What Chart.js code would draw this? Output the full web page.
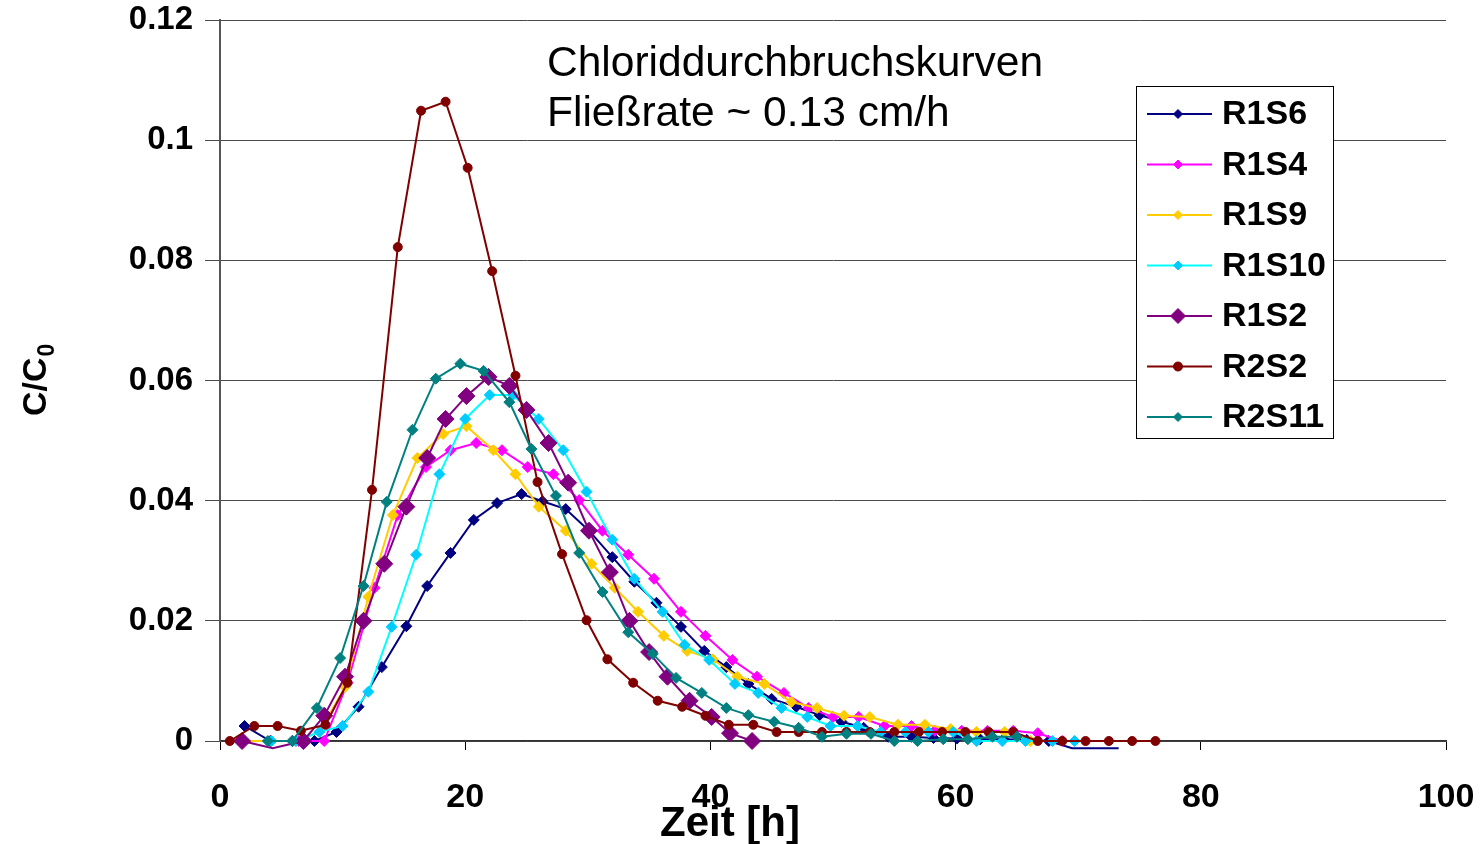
<!DOCTYPE html>
<html>
<head>
<meta charset="utf-8">
<title>Chloriddurchbruchskurven</title>
<script src="https://cdn.jsdelivr.net/npm/chart.js@4.4.0/dist/chart.umd.min.js"></script>
<style>
  body { margin: 0; background: #fff; }
  #wrap { width: 1484px; height: 844px; }
</style>
</head>
<body>
<div id="wrap"><canvas id="myChart"></canvas></div>
<script>
'use strict';

// data (Zeit in h, C/C0)

let seriesNames = ['R1S6', 'R1S4', 'R1S9', 'R1S10', 'R1S2', 'R2S2', 'R2S11'];

let timeR1S6 = [2.0, 4.1, 5.9, 7.7, 9.5, 11.3, 13.2, 15.2, 16.9, 18.8, 20.7, 22.6, 24.6, 26.3, 28.2, 30.1, 32.0, 33.8, 35.6, 37.6, 39.5, 41.3, 43.1, 45.0, 47.0, 48.9, 50.7, 52.5, 54.5, 56.4, 58.2, 60.1, 62.0, 63.9, 65.8, 67.6, 69.5, 71.4, 73.3];
let valR1S6 = [0.0025, 0, 0, 0, 0.0015, 0.0057, 0.0123, 0.0191, 0.0258, 0.0313, 0.0368, 0.0396, 0.0411, 0.0399, 0.0386, 0.035, 0.0306, 0.0265, 0.023, 0.019, 0.015, 0.0123, 0.0095, 0.007, 0.0057, 0.0043, 0.0032, 0.0022, 0.0007, 0.0007, 0.0005, 0.0004, 0.0003, 0.0003, 0.0002, 0, -0.0012, -0.0012, -0.0012];

let timeR1S4 = [6.4, 8.5, 10.4, 12.6, 14.5, 16.8, 18.8, 20.9, 23.0, 25.1, 27.2, 29.3, 31.2, 33.3, 35.4, 37.6, 39.6, 41.8, 43.8, 46.0, 48.0, 50.0, 52.1, 54.2, 56.4, 58.3, 60.5, 62.6, 64.7, 66.7, 68.7];
let valR1S4 = [0, 0, 0.0097, 0.0255, 0.0376, 0.0456, 0.0484, 0.0496, 0.0484, 0.0456, 0.0444, 0.0401, 0.035, 0.031, 0.027, 0.0215, 0.0175, 0.0135, 0.0107, 0.008, 0.0055, 0.004, 0.004, 0.0025, 0.0025, 0.0017, 0.0017, 0.0017, 0.0017, 0.0013, 0];

let timeR1S9 = [1.9, 4.2, 6.2, 8.1, 10.2, 12.1, 14.1, 16.1, 18.2, 20.1, 22.3, 24.1, 26.0, 28.2, 30.3, 32.2, 34.1, 36.2, 38.1, 40.2, 42.2, 44.4, 46.6, 48.7, 50.9, 53.0, 55.3, 57.5, 59.6, 61.7, 64.0, 66.1];
let valR1S9 = [0, 0, 0, 0.0015, 0.009, 0.024, 0.0376, 0.0471, 0.0511, 0.0524, 0.0484, 0.0444, 0.039, 0.035, 0.0295, 0.0255, 0.0215, 0.0175, 0.015, 0.0136, 0.0107, 0.0095, 0.0065, 0.0055, 0.0042, 0.004, 0.0027, 0.0027, 0.002, 0.0015, 0.0015, 0];

let timeR1S10 = [4.2, 6.2, 8.1, 10.0, 12.1, 14.0, 16.0, 17.9, 20.0, 22.0, 23.9, 26.0, 28.0, 29.9, 32.0, 33.8, 36.1, 37.9, 39.9, 42.0, 43.9, 45.8, 47.9, 49.8, 52.0, 53.9, 55.9, 57.8, 59.8, 61.7, 63.8, 65.7, 67.9, 69.7];
let valR1S10 = [0, 0, 0.0015, 0.0025, 0.0082, 0.019, 0.031, 0.0444, 0.0536, 0.0576, 0.0576, 0.0536, 0.0484, 0.0415, 0.0335, 0.027, 0.0215, 0.016, 0.0135, 0.0095, 0.008, 0.0055, 0.004, 0.0025, 0.0025, 0.0015, 0.0015, 0.0015, 0.0015, 0, 0, 0, 0, 0];

let timeR1S2 = [1.8, 4.3, 6.8, 8.5, 10.2, 11.7, 13.4, 15.2, 16.9, 18.4, 20.1, 21.9, 23.6, 25.0, 26.8, 28.4, 30.1, 31.8, 33.4, 35.0, 36.5, 38.3, 40.1, 41.6, 43.4];
let valR1S2 = [0, -0.0012, 0, 0.0042, 0.0107, 0.02, 0.0295, 0.039, 0.0471, 0.0536, 0.0574, 0.0606, 0.0591, 0.0551, 0.0496, 0.043, 0.035, 0.0281, 0.02, 0.0148, 0.0107, 0.0067, 0.004, 0.0013, 0];

let timeR2S2 = [0.8, 2.8, 4.7, 6.6, 8.6, 10.4, 12.4, 14.5, 16.4, 18.4, 20.2, 22.2, 24.1, 25.9, 27.9, 29.9, 31.6, 33.7, 35.7, 37.7, 39.6, 41.5, 43.5, 45.4, 47.2, 49.1, 51.1, 53.0, 55.0, 57.0, 58.9, 60.8, 62.7, 64.7, 66.7, 68.7, 70.6, 72.5, 74.4, 76.3];
let valR2S2 = [0, 0.0025, 0.0025, 0.0017, 0.0027, 0.0097, 0.0418, 0.0822, 0.1049, 0.1064, 0.0954, 0.0782, 0.0608, 0.0431, 0.0311, 0.0201, 0.0136, 0.0097, 0.0067, 0.0057, 0.0042, 0.0027, 0.0027, 0.0015, 0.0015, 0.0015, 0.0015, 0.0015, 0.0015, 0.0015, 0.0015, 0.0015, 0.0015, 0.0015, 0, 0, 0, 0, 0, 0];

let timeR2S11 = [3.9, 5.9, 7.9, 9.8, 11.7, 13.6, 15.7, 17.6, 19.6, 21.5, 23.6, 25.4, 27.4, 29.3, 31.2, 33.3, 35.3, 37.2, 39.3, 41.3, 43.1, 45.2, 47.2, 49.1, 51.1, 53.1, 55.0, 56.9, 59.0, 61.0, 63.0, 65.0];
let valR2S11 = [0, 0, 0.0055, 0.0138, 0.0258, 0.0398, 0.0518, 0.0603, 0.0628, 0.0616, 0.0564, 0.0486, 0.0408, 0.0313, 0.0248, 0.0181, 0.0145, 0.0105, 0.008, 0.0055, 0.0043, 0.0032, 0.0022, 0.0007, 0.0012, 0.0012, 0, 0, 0.0003, 0.0003, 0.0007, 0.0007];

let xTickLabels = ['0', '20', '40', '60', '80', '100'];
let yTickLabels = ['0', '0.02', '0.04', '0.06', '0.08', '0.1', '0.12'];
let titleLines = ['Chloriddurchbruchskurven', 'Flie\u00dfrate ~ 0.13 cm/h'];

// styles

let fontFamily = '"Liberation Sans", Arial, Helvetica, sans-serif';
let lineColors = ['#000080', '#ff00ff', '#ffcc00', '#00ffff', '#800080', '#800000', '#008080'];
let markerColors = ['#000080', '#ff00ff', '#ffcc00', '#00ccff', '#800080', '#800000', '#008080'];
let markerStyles = ['rectRot', 'rectRot', 'rectRot', 'rectRot', 'rectRot', 'circle', 'rectRot'];
let markerSizes = [5.5, 5.5, 5.5, 5.5, 8.5, 4.5, 5.5];

let allTimes = [timeR1S6, timeR1S4, timeR1S9, timeR1S10, timeR1S2, timeR2S2, timeR2S11];
let allValues = [valR1S6, valR1S4, valR1S9, valR1S10, valR1S2, valR2S2, valR2S11];

function makePoints(times, values) {
  let points = [];
  for (let i = 0; i < times.length; i++) {
    points.push({ x: times[i], y: values[i] });
  }
  return points;
}

let datasets = seriesNames.map(function (name, i) {
  return {
    label: name,
    data: makePoints(allTimes[i], allValues[i]),
    borderColor: lineColors[i],
    borderWidth: 2,
    backgroundColor: markerColors[i],
    pointBackgroundColor: markerColors[i],
    pointBorderColor: markerColors[i],
    pointBorderWidth: 1,
    pointStyle: markerStyles[i],
    // values below zero are drawn as line only, like the original
    pointRadius: function (c) { return c.raw && c.raw.y < 0 ? 0 : markerSizes[i]; },
    pointHoverRadius: markerSizes[i],
    tension: 0,
    clip: false,
    order: seriesNames.length - i // later series on top
  };
});

// titles and legend drawn inside the plot
let overlayPlugin = {
  id: 'overlay',
  afterDraw: function (chart) {
    let ctx = chart.ctx;
    let area = chart.chartArea;
    ctx.save();
    ctx.fillStyle = '#000';

    ctx.font = '42.5px ' + fontFamily;
    ctx.textAlign = 'left';
    ctx.textBaseline = 'alphabetic';
    ctx.fillText(titleLines[0], area.left + 327, area.top + 56);
    ctx.fillText(titleLines[1], area.left + 327, area.top + 106);

    // x title, sits over the "40" label as in the original
    ctx.font = 'bold 42px ' + fontFamily;
    ctx.textAlign = 'center';
    ctx.fillText('Zeit [h]', 730, 836);

    // y title C/C0 with subscript
    ctx.translate(46, 416);
    ctx.rotate(-Math.PI / 2);
    ctx.textAlign = 'left';
    ctx.font = 'bold 34px ' + fontFamily;
    ctx.fillText('C/C', 0, 0);
    let w = ctx.measureText('C/C').width;
    ctx.font = 'bold 23px ' + fontFamily;
    ctx.fillText('0', w + 1, 8);
    ctx.setTransform(1, 0, 0, 1, 0, 0);

    // legend box
    let boxLeft = area.right - 310;
    let boxTop = area.top + 66;
    ctx.fillStyle = '#fff';
    ctx.fillRect(boxLeft, boxTop, 197, 352);
    ctx.strokeStyle = '#000';
    ctx.lineWidth = 1;
    ctx.strokeRect(boxLeft + 0.5, boxTop + 0.5, 197, 352);

    for (let i = 0; i < seriesNames.length; i++) {
      let y = boxTop + 28 + i * 50.5;
      ctx.strokeStyle = lineColors[i];
      ctx.lineWidth = 2;
      ctx.beginPath();
      ctx.moveTo(boxLeft + 11, y);
      ctx.lineTo(boxLeft + 76, y);
      ctx.stroke();
      ctx.fillStyle = markerColors[i];
      ctx.strokeStyle = markerColors[i];
      ctx.lineWidth = 1;
      Chart.helpers.drawPoint(ctx, {
        pointStyle: markerStyles[i],
        radius: i === 4 ? 7.5 : 4.5,
        rotation: 0,
        borderWidth: 1
      }, boxLeft + 42, y);
      ctx.fillStyle = '#000';
      ctx.font = 'bold 34px ' + fontFamily;
      ctx.textAlign = 'left';
      ctx.textBaseline = 'middle';
      ctx.fillText(seriesNames[i], boxLeft + 86, y + 1);
    }
    ctx.restore();
  }
};

let ctx = document.getElementById('myChart').getContext('2d');

let myChart = new Chart(ctx, {
  type: 'line',
  data: { datasets: datasets },
  options: {
    responsive: true,
    maintainAspectRatio: false,
    animation: false,
    layout: { padding: { left: 0, right: 38, top: 20, bottom: 0 } },
    plugins: {
      legend: { display: false },
      tooltip: { enabled: false }
    },
    scales: {
      x: {
        type: 'linear',
        min: 0,
        max: 100,
        ticks: {
          stepSize: 20,
          color: '#000',
          font: { family: fontFamily, size: 34, weight: 'bold' },
          padding: 27,
          maxRotation: 0,
          callback: function (v) { return xTickLabels[Math.round(v / 20)]; }
        },
        grid: { drawOnChartArea: false, drawTicks: true, tickLength: 9, tickColor: '#000' },
        border: { color: '#333', width: 1.5 },
        afterFit: function (scale) {
          scale.height = 103;
          scale.paddingLeft = 0;
          scale.paddingRight = 0;
        }
      },
      y: {
        min: 0,
        max: 0.12,
        ticks: {
          stepSize: 0.02,
          color: '#000',
          font: { family: fontFamily, size: 33, weight: 'bold' },
          padding: 12,
          callback: function (v) { return yTickLabels[Math.round(v / 0.02)]; }
        },
        grid: { color: '#4a4a4a', lineWidth: 1, tickLength: 15, tickColor: '#4a4a4a' },
        border: { color: '#555', width: 2 },
        afterFit: function (scale) {
          scale.width = 220;
          scale.paddingTop = 0;
          scale.paddingBottom = 0;
        }
      }
    }
  },
  plugins: [overlayPlugin]
});

console.log(myChart);
</script>
</body>
</html>
